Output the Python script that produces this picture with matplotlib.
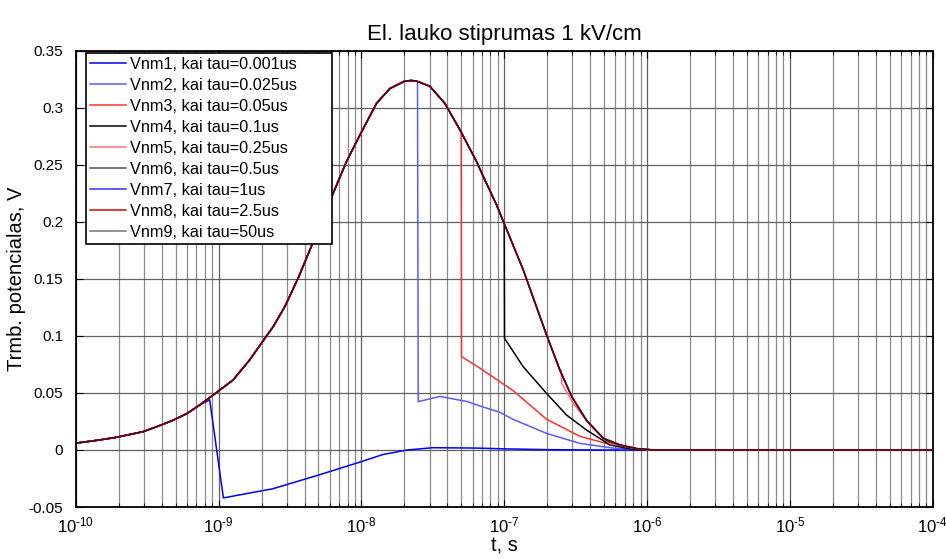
import numpy as np
import matplotlib
matplotlib.use('Agg')
import matplotlib.pyplot as plt
from matplotlib.ticker import LogLocator, NullFormatter, FixedLocator, FuncFormatter

plt.rcParams['font.family'] = ['Liberation Sans', 'DejaVu Sans']
plt.rcParams['mathtext.fontset'] = 'custom'
plt.rcParams['mathtext.rm'] = 'Liberation Sans'
plt.rcParams['mathtext.it'] = 'Liberation Sans'
plt.rcParams['axes.unicode_minus'] = False

# common curve (log10 of t, V) - all series follow it until tau
env_logt = [-10.0, -9.85, -9.72, -9.53, -9.42, -9.32, -9.22, -9.132, -9.015, -8.898,
            -8.782, -8.70, -8.618, -8.536, -8.443, -8.385, -8.28, -8.198, -8.104, -8.011,
            -7.894, -7.80, -7.696, -7.65, -7.614, -7.521, -7.416, -7.311, -7.194, -7.136,
            -7.054, -7.008, -6.867, -6.704, -6.61, -6.528, -6.424, -6.307, -6.19, -6.07,
            -5.95, -4.0]
env_v = [0.006, 0.0085, 0.011, 0.016, 0.021, 0.026, 0.032, 0.0395, 0.0503, 0.0614,
         0.079, 0.0936, 0.108, 0.1257, 0.1506, 0.168, 0.200, 0.225, 0.253, 0.276,
         0.304, 0.317, 0.3235, 0.324, 0.3235, 0.319, 0.304, 0.281, 0.253, 0.237,
         0.215, 0.201, 0.158, 0.101, 0.070, 0.047, 0.026, 0.0103, 0.0045, 0.0012,
         0.0, 0.0]

taus = ['0.001', '0.025', '0.05', '0.1', '0.25', '0.5', '1', '2.5', '50']

# values after the switch-off (log10 t, V)
tail1_t = [-9.062, -8.966, -8.62, -8.3, -8.0, -7.85, -7.68, -7.5, -7.2, -7.0, -6.7, -6.3, -4.0]
tail1_v = [0.044, -0.042, -0.034, -0.022, -0.0102, -0.004, 0.0, 0.002, 0.0017, 0.001, 0.0003, 0.0, 0.0]
tail2_t = [-7.607, -7.602, -7.45, -7.26, -7.17, -7.03, -6.94, -6.704, -6.47, -6.24, -6.0, -5.9, -4.0]
tail2_v = [0.3235, 0.0424, 0.047, 0.0425, 0.0386, 0.033, 0.027, 0.0146, 0.0058, 0.0017, 0.0003, 0.0, 0.0]
tail3_t = [-7.301, -7.299, -7.17, -6.937, -6.704, -6.47, -6.24, -6.07, -5.95, -4.0]
tail3_v = [0.279, 0.082, 0.0717, 0.052, 0.027, 0.012, 0.0042, 0.0008, 0.0, 0.0]
tail4_t = [-7.0, -6.998, -6.867, -6.704, -6.564, -6.424, -6.26, -6.1, -5.95, -4.0]
tail4_v = [0.199, 0.098, 0.073, 0.0497, 0.0307, 0.0175, 0.0045, 0.0005, 0.0, 0.0]
tail5_t = [-6.602, -6.598, -6.517, -6.40, -6.26, -6.07, -5.95, -4.0]
tail5_v = [0.070, 0.0585, 0.041, 0.022, 0.0055, 0.001, 0.0, 0.0]
tail6_t = [-6.301, -6.299, -6.19, -6.07, -5.95, -4.0]
tail6_v = [0.010, 0.0085, 0.0038, 0.001, 0.0, 0.0]

tails = [(tail1_t, tail1_v), (tail2_t, tail2_v), (tail3_t, tail3_v),
         (tail4_t, tail4_v), (tail5_t, tail5_v), (tail6_t, tail6_v),
         ([], []), ([], []), ([], [])]

colors = ['#0000ff', '#5a5aff', '#ff3030', '#000000', '#ff7070',
          '#505050', '#3030ff', '#e00000', '#000000']
alphas = [1, 1, 1, 1, 1, 1, 1, 1, 0.55]


def build(tt, tv):
    et = np.array(env_logt)
    ev = np.array(env_v)
    if len(tt) == 0:
        return et, ev
    m = et < tt[0]
    return np.concatenate([et[m], tt]), np.concatenate([ev[m], tv])


def decade(x, pos):
    e = int(round(np.log10(x)))
    return r'$\mathdefault{10^{\text{-}%d}}$' % (-e)


fig = plt.figure(figsize=(9.46, 5.59), dpi=100)
ax = fig.add_axes([0.080, 0.093, 0.906, 0.816])

for i in range(9):
    lt, v = build(*tails[i])
    ax.plot(10.0 ** lt, v, color=colors[i], alpha=alphas[i], lw=1.1,
            label='Vnm%d, kai tau=%sus' % (i + 1, taus[i]))

ax.set_xscale('log')
ax.set_xlim(1e-10, 1e-4)
ax.set_ylim(-0.05, 0.35)
ax.yaxis.set_major_locator(FixedLocator(np.arange(-0.05, 0.351, 0.05)))
ax.set_yticklabels(['-0.05', '0', '0.05', '0.1', '0.15', '0.2', '0.25', '0.3', '0.35'])
ax.xaxis.set_major_locator(LogLocator(base=10, numticks=20))
ax.xaxis.set_major_formatter(FuncFormatter(decade))
ax.xaxis.set_minor_locator(LogLocator(base=10, subs=np.arange(2, 10), numticks=20))
ax.xaxis.set_minor_formatter(NullFormatter())

ax.grid(True, which='major', color='#606060', lw=0.9)
ax.grid(True, which='minor', axis='x', color='#8a8a8a', lw=0.9)
ax.set_axisbelow(True)

ax.tick_params(which='both', direction='in', top=True, right=True)
ax.tick_params(which='major', length=5)
ax.tick_params(which='minor', length=3)
ax.tick_params(axis='y', labelsize=11, pad=9)
ax.tick_params(axis='x', which='major', labelsize=12, pad=6)
for s in ax.spines.values():
    s.set_linewidth(1.3)

ax.set_title('El. lauko stiprumas 1 kV/cm', fontsize=16, pad=8)
ax.set_xlabel('t, s', fontsize=14.5, labelpad=1)
ax.set_ylabel('Trmb. potencialas, V', fontsize=14.5, labelpad=2)

leg = ax.legend(loc='upper left', bbox_to_anchor=(0.0117, 0.0, 0.287, 0.996),
                mode='expand', fontsize=11.7,
                fancybox=False, edgecolor='black', framealpha=1,
                handlelength=2.2, handletextpad=0.3, labelspacing=0.37,
                borderpad=0.25, borderaxespad=0)
leg.get_frame().set_linewidth(1.2)

fig.savefig('out.png', dpi=100)
